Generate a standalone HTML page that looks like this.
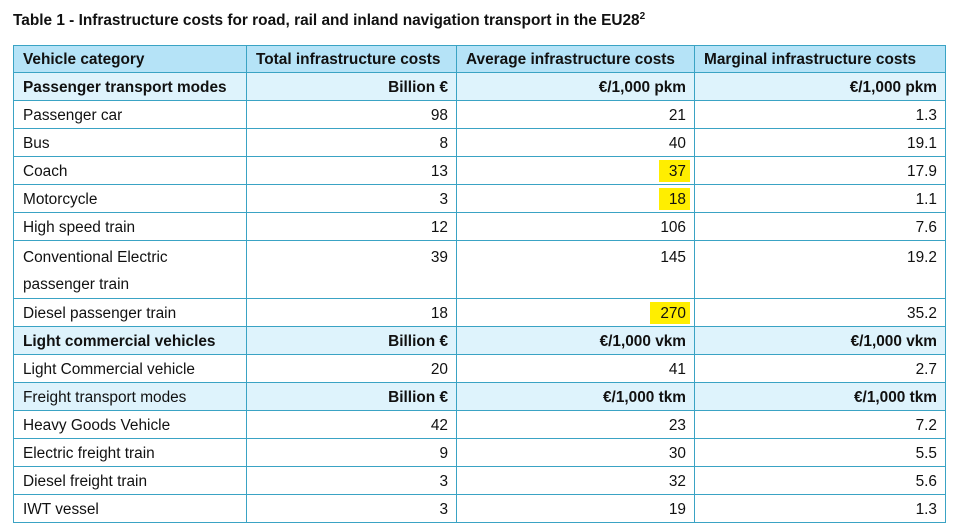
<!DOCTYPE html>
<html><head><meta charset="utf-8"><style>
body{margin:0;width:961px;height:525px;background:#fff;font-family:"Liberation Sans",Arial,sans-serif;color:#111;position:relative;overflow:hidden}
.title{position:absolute;left:13px;top:11px;font-weight:bold;font-size:15.4px;white-space:nowrap}
.title sup{font-size:10px}
table{position:absolute;left:13px;top:45px;border-collapse:collapse;font-size:15.4px;table-layout:fixed}
td{border:1.5px solid #3aa3c4;padding:2px 8px 0 9px;height:25px;white-space:nowrap;vertical-align:middle}
td.n{text-align:right}
tr.h td{background:#b5e3f7;font-weight:bold;height:24px}
tr.s td{background:#def3fc;font-weight:bold}
tr.s2 td{background:#def3fc}
tr.s2 td.n{font-weight:bold}
.tall td{height:50px;vertical-align:top;padding-top:3px;line-height:27px}
.hl{background:#ffee00;padding:3px 4px 2px 10px;margin-right:-4px}
</style></head><body>
<div class="title">Table 1 - Infrastructure costs for road, rail and inland navigation transport in the EU28<sup>2</sup></div>
<table>
<colgroup><col style="width:233px"><col style="width:210px"><col style="width:238px"><col style="width:251px"></colgroup>
<tr class="h"><td>Vehicle category</td><td>Total infrastructure costs</td><td>Average infrastructure costs</td><td>Marginal infrastructure costs</td></tr>
<tr class="s"><td>Passenger transport modes</td><td class="n">Billion €</td><td class="n">€/1,000 pkm</td><td class="n">€/1,000 pkm</td></tr>
<tr><td>Passenger car</td><td class="n">98</td><td class="n">21</td><td class="n">1.3</td></tr>
<tr><td>Bus</td><td class="n">8</td><td class="n">40</td><td class="n">19.1</td></tr>
<tr><td>Coach</td><td class="n">13</td><td class="n"><span class="hl">37</span></td><td class="n">17.9</td></tr>
<tr><td>Motorcycle</td><td class="n">3</td><td class="n"><span class="hl">18</span></td><td class="n">1.1</td></tr>
<tr><td>High speed train</td><td class="n">12</td><td class="n">106</td><td class="n">7.6</td></tr>
<tr class="tall"><td>Conventional Electric<br>passenger train</td><td class="n">39</td><td class="n">145</td><td class="n">19.2</td></tr>
<tr><td>Diesel passenger train</td><td class="n">18</td><td class="n"><span class="hl">270</span></td><td class="n">35.2</td></tr>
<tr class="s"><td>Light commercial vehicles</td><td class="n">Billion €</td><td class="n">€/1,000 vkm</td><td class="n">€/1,000 vkm</td></tr>
<tr><td>Light Commercial vehicle</td><td class="n">20</td><td class="n">41</td><td class="n">2.7</td></tr>
<tr class="s2"><td>Freight transport modes</td><td class="n">Billion €</td><td class="n">€/1,000 tkm</td><td class="n">€/1,000 tkm</td></tr>
<tr><td>Heavy Goods Vehicle</td><td class="n">42</td><td class="n">23</td><td class="n">7.2</td></tr>
<tr><td>Electric freight train</td><td class="n">9</td><td class="n">30</td><td class="n">5.5</td></tr>
<tr><td>Diesel freight train</td><td class="n">3</td><td class="n">32</td><td class="n">5.6</td></tr>
<tr><td>IWT vessel</td><td class="n">3</td><td class="n">19</td><td class="n">1.3</td></tr>
</table>
</body></html>
